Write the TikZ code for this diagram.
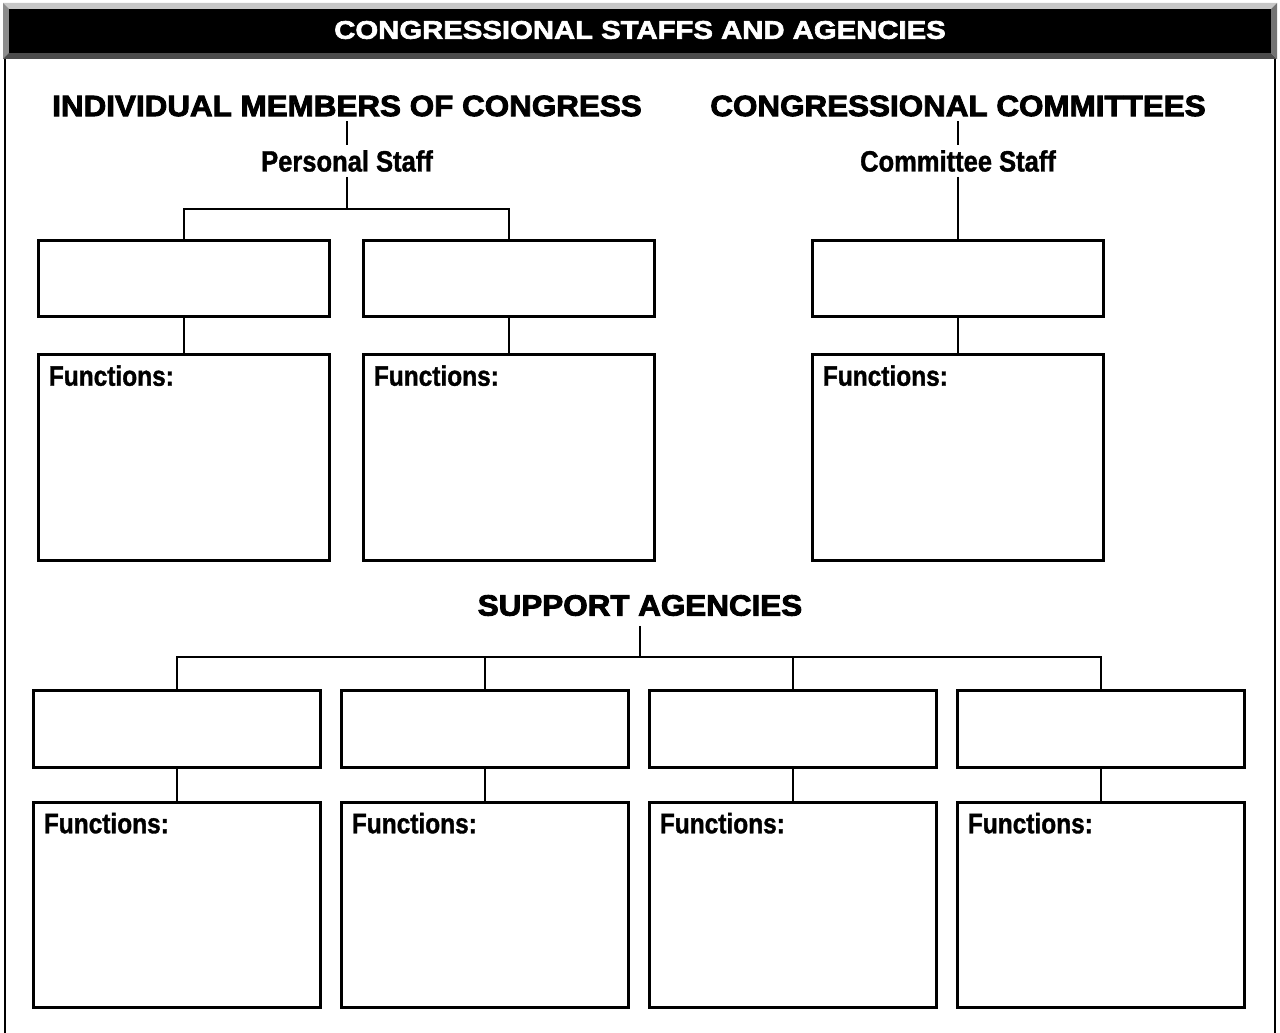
\documentclass[tikz,border=0pt]{standalone}
\usepackage{fontspec}
\setmainfont{Liberation Sans}
\newfontfamily\headfont{Liberation Sans Bold}[FakeStretch=1.07,FakeBold=3]
\newfontfamily\titlefont{Liberation Sans Bold}[FakeStretch=1.15,FakeBold=2.5]
\newfontfamily\narrowfont{Liberation Sans Bold}[FakeStretch=0.87,FakeBold=1.2]
\definecolor{bevtop}{gray}{0.78}
\definecolor{bevleft}{gray}{0.55}
\definecolor{bevright}{gray}{0.45}
\definecolor{bevbot}{gray}{0.30}

\begin{document}
\begin{tikzpicture}[x=0.02cm,y=-0.02cm]
\tikzstyle{every node}+=[inner sep=0pt]
\tikzstyle{titletext}=[text=white,font=\titlefont\fontsize{14.5}{16}\selectfont]
\tikzstyle{head}=[outer sep=0.1cm,font=\headfont\fontsize{16.7}{20}\selectfont]
\tikzstyle{sub}=[outer sep=0.1cm,font=\narrowfont\fontsize{16.7}{20}\selectfont]
\tikzstyle{namebox}=[draw,line width=1.7pt,minimum width=5.84cm,minimum height=1.53cm]
\tikzstyle{funcbox}=[draw,line width=1.7pt,minimum width=5.84cm,minimum height=4.12cm,
  label={[anchor=north west,xshift=0.24cm,yshift=-0.24cm,font=\narrowfont\fontsize{16}{19}\selectfont]north west:Functions:}]
\tikzstyle{conn}=[line width=1.5pt]
\useasboundingbox (0,0) rectangle (1280,1033);
\fill [bevtop] (3,3) -- (1277,3) -- (1271,9) -- (9,9) -- cycle;
\fill [bevleft] (3,3) -- (9,9) -- (9,53) -- (3,59) -- cycle;
\fill [bevbot] (3,59) -- (9,53) -- (1271,53) -- (1277,59) -- cycle;
\fill [bevright] (1277,3) -- (1277,59) -- (1271,53) -- (1271,9) -- cycle;
\fill [black] (9,9) rectangle (1271,53);
\node [titletext] (title) at (640,30) {CONGRESSIONAL STAFFS AND AGENCIES};
\draw [line width=1.6pt] (5,59) -- (5,1033);
\draw [line width=1.6pt] (1275,59) -- (1275,1033);
\node [head] (members) at (347,106) {INDIVIDUAL MEMBERS OF CONGRESS};
\node [head] (committees) at (958,106) {CONGRESSIONAL COMMITTEES};
\node [sub] (pstaff) at (347,161) {Personal Staff};
\node [sub] (cstaff) at (958,161) {Committee Staff};
\coordinate (pjoin) at (347,209);
\node [namebox] (boxa) at (184,278.5) {};
\node [namebox] (boxb) at (509,278.5) {};
\node [namebox] (boxc) at (958,278.5) {};
\node [funcbox] (funca) at (184,457.5) {};
\node [funcbox] (funcb) at (509,457.5) {};
\node [funcbox] (funcc) at (958,457.5) {};
\draw [conn] (members.south) -- (pstaff.north);
\draw [conn] (pstaff.south) -- (pjoin);
\draw [conn] (boxa.north) |- (pjoin) -| (boxb.north);
\draw [conn] (committees.south) -- (cstaff.north);
\draw [conn] (cstaff.south) -- (boxc.north);
\draw [conn] (boxa) -- (funca);
\draw [conn] (boxb) -- (funcb);
\draw [conn] (boxc) -- (funcc);
\node [head,outer sep=0.2cm] (support) at (640,605.5) {SUPPORT AGENCIES};
\coordinate (sjoin) at (640,657);
\node [namebox,minimum width=5.76cm] (sbox1) at (177,729) {};
\node [namebox,minimum width=5.76cm] (sbox2) at (485,729) {};
\node [namebox,minimum width=5.76cm] (sbox3) at (793,729) {};
\node [namebox,minimum width=5.76cm] (sbox4) at (1101,729) {};
\node [funcbox,minimum width=5.76cm] (sfunc1) at (177,905) {};
\node [funcbox,minimum width=5.76cm] (sfunc2) at (485,905) {};
\node [funcbox,minimum width=5.76cm] (sfunc3) at (793,905) {};
\node [funcbox,minimum width=5.76cm] (sfunc4) at (1101,905) {};
\draw [conn] (support.south) -- (sjoin);
\draw [conn] (sbox1.north) |- (sjoin) -| (sbox4.north);
\draw [conn] (sbox2.north) |- (sjoin);
\draw [conn] (sbox3.north) |- (sjoin);
\draw [conn] (sbox1) -- (sfunc1);
\draw [conn] (sbox2) -- (sfunc2);
\draw [conn] (sbox3) -- (sfunc3);
\draw [conn] (sbox4) -- (sfunc4);
\end{tikzpicture}
\end{document}
